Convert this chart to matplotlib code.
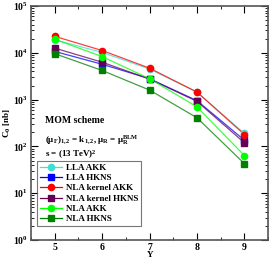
import matplotlib
matplotlib.use('Agg')
import matplotlib.pyplot as plt
from matplotlib.ticker import LogLocator, MultipleLocator, NullFormatter

plt.rcParams['font.family'] = 'Liberation Serif'
plt.rcParams['font.weight'] = 'bold'
plt.rcParams['mathtext.fontset'] = 'custom'
plt.rcParams['mathtext.rm'] = 'Liberation Serif:bold'
plt.rcParams['mathtext.it'] = 'Liberation Serif:bold'
plt.rcParams['mathtext.bf'] = 'Liberation Serif:bold'

Y = [5, 6, 7, 8, 9]
lla_akk = [19000, 10200, 4500, 1450, 190]
lla_hkns = [10700, 5700, 2800, 950, 136]
nla_kernel_akk = [22500, 11200, 4700, 1450, 180]
nla_kernel_hkns = [12600, 6300, 2750, 920, 120]
nla_akk = [19500, 8300, 2800, 700, 64]
nla_hkns = [9600, 4200, 1600, 410, 43]

series = [
    ('LLA AKK', lla_akk, '#40e0d0', 'o'),
    ('LLA HKNS', lla_hkns, '#0000ff', 's'),
    ('NLA kernel AKK', nla_kernel_akk, '#ff0000', 'o'),
    ('NLA kernel HKNS', nla_kernel_hkns, '#660055', 's'),
    ('NLA AKK', nla_akk, '#00ff00', 'o'),
    ('NLA HKNS', nla_hkns, '#008000', 's'),
]

fig = plt.figure(figsize=(2.7, 2.61), dpi=100)
ax = fig.add_axes([0.115, 0.08, 0.878, 0.897])

for name, vals, col, mk in series:
    ax.plot(Y, vals, color=col, lw=0.9, alpha=0.75, zorder=2)
    ax.plot(Y, vals, color=col, lw=0, marker=mk, ms=4.5, zorder=3)
    ax.plot([], [], color=col, lw=0.9, marker=mk, ms=4.5, label=name)

ax.set_yscale('log')
ax.set_ylim(1, 1e5)
ax.set_xlim(4.5, 9.5)
ax.xaxis.set_major_locator(MultipleLocator(1))
ax.xaxis.set_minor_locator(MultipleLocator(0.5))
ax.yaxis.set_major_locator(LogLocator(base=10, numticks=10))
ax.yaxis.set_minor_locator(LogLocator(base=10, subs=range(2, 10), numticks=20))
ax.yaxis.set_minor_formatter(NullFormatter())
ax.tick_params(which='both', direction='in', top=True, right=True, labelsize=7)
ax.tick_params(which='major', length=5, width=0.8, pad=2)
ax.tick_params(which='minor', length=2.5, width=0.6)
for s in ax.spines.values():
    s.set_linewidth(1.2)
    s.set_color('#555555')

ax.set_xlabel('Y', fontsize=6.5, fontweight='bold')
ax.xaxis.set_label_coords(0.5, -0.045)
ax.set_ylabel(r'C$_0$ [nb]', fontsize=6.5, fontweight='bold')
ax.yaxis.set_label_coords(-0.075, 0.5)

ax.text(0.06, 0.5, 'MOM scheme', transform=ax.transAxes, fontsize=7, fontweight='bold')
ax.text(0.06, 0.415, r'$(\mu_F)_{1,2}$ = k$_{1,2}$, $\mu_R$ = $\mu_R^{BLM}$',
        transform=ax.transAxes, fontsize=6.5, fontweight='bold')
ax.text(0.06, 0.355, r's = (13 TeV)$^2$', transform=ax.transAxes, fontsize=6.5, fontweight='bold')

leg = ax.legend(loc='lower left', bbox_to_anchor=(0.025, 0.06), fontsize=6.5,
                frameon=True, fancybox=False, edgecolor='#555555',
                borderpad=0.3, labelspacing=0.22, handlelength=2.5,
                handletextpad=0.4, borderaxespad=0)
leg.get_frame().set_linewidth(0.8)

fig.savefig('out.png', dpi=100)
